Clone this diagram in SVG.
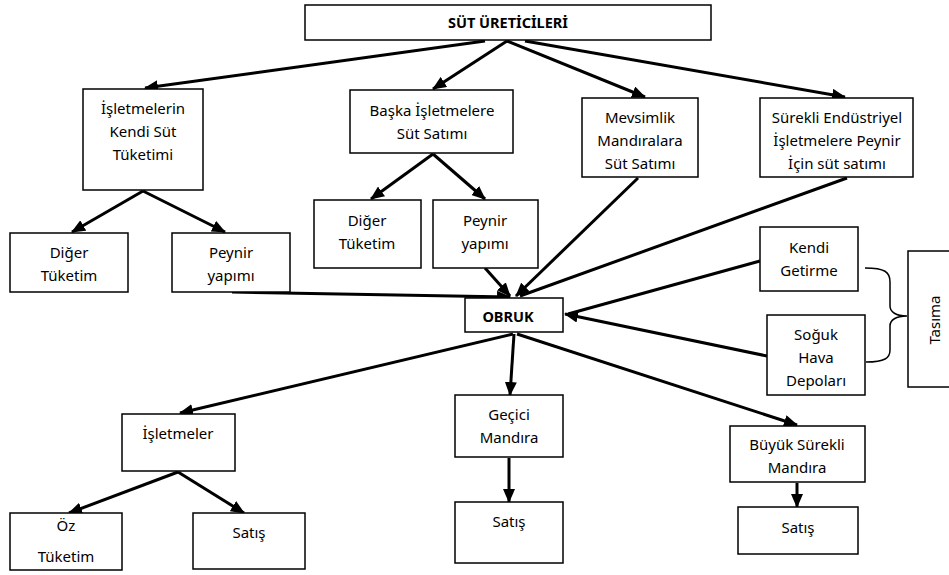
<svg xmlns="http://www.w3.org/2000/svg" width="949" height="575" viewBox="0 0 949 575">
<defs>
<marker id="ah" markerWidth="14" markerHeight="12" refX="13" refY="6" orient="auto" markerUnits="userSpaceOnUse">
<path d="M0,0 L14,6 L0,12 z" fill="#000"/>
</marker>
<style>
.box{fill:#fff;stroke:#000;stroke-width:1.5}
.t{font-family:"Noto Sans","Open Sans",sans-serif;font-size:15px;fill:#000;text-anchor:middle}
.b{font-weight:bold;font-size:14.5px}
.c{fill:none;stroke:#000;stroke-width:3}
.a{marker-end:url(#ah)}
.br{fill:none;stroke:#000;stroke-width:1.5}
</style>
</defs>
<rect width="949" height="575" fill="#fff"/>
<g id="connectors">
<line class="c a" x1="485" y1="41" x2="145" y2="88"/>
<line class="c a" x1="507" y1="41" x2="433" y2="89"/>
<line class="c a" x1="507" y1="41" x2="645" y2="97"/>
<line class="c a" x1="525" y1="41" x2="845" y2="97"/>
<line class="c a" x1="143" y1="191" x2="72" y2="232"/>
<line class="c a" x1="143" y1="191" x2="225" y2="232"/>
<line class="c a" x1="433" y1="154" x2="371" y2="199"/>
<line class="c a" x1="433" y1="154" x2="485" y2="199"/>
<line class="c a" x1="232" y1="292" x2="510" y2="297"/>
<line class="c a" x1="485" y1="268" x2="510" y2="296"/>
<line class="c a" x1="638" y1="178" x2="516" y2="296"/>
<line class="c" x1="847" y1="178" x2="520" y2="296"/>
<line class="c" x1="760" y1="261" x2="568" y2="314"/>
<line class="c a" x1="767" y1="356" x2="565" y2="314"/>
<line class="c a" x1="513" y1="334" x2="180" y2="413"/>
<line class="c a" x1="514" y1="334" x2="510" y2="395"/>
<line class="c a" x1="517" y1="334" x2="797" y2="425"/>
<line class="c a" x1="178" y1="472" x2="69" y2="513"/>
<line class="c a" x1="178" y1="472" x2="244" y2="513"/>
<line class="c a" x1="509" y1="458" x2="509" y2="502"/>
<line class="c a" x1="797" y1="483" x2="797" y2="507"/>
<path class="br" d="M865,268 C885,268 890,272 890,282 L890,306 C890,312 896,316 907,316 C896,316 890,320 890,326 L890,350 C890,358 885,362 866,362"/>
</g>
<g id="n_sut"><rect class="box" x="305" y="5" width="406" height="35"/><text class="t b" x="508" y="28">SÜT ÜRETİCİLERİ</text></g>
<g id="n_kendi"><rect class="box" x="83" y="89" width="120" height="101"/><text class="t" x="143" y="114">İşletmelerin</text><text class="t" x="143" y="137">Kendi Süt</text><text class="t" x="143" y="160">Tüketimi</text></g>
<g id="n_baska"><rect class="box" x="350" y="90" width="163" height="63"/><text class="t" x="432" y="116">Başka İşletmelere</text><text class="t" x="432" y="139">Süt Satımı</text></g>
<g id="n_mevsim"><rect class="box" x="582" y="98" width="116" height="79"/><text class="t" x="640" y="123">Mevsimlik</text><text class="t" x="640" y="146">Mandıralara</text><text class="t" x="640" y="169">Süt Satımı</text></g>
<g id="n_surekli"><rect class="box" x="760" y="98" width="153" height="79"/><text class="t" x="837" y="123">Sürekli Endüstriyel</text><text class="t" x="837" y="146">İşletmelere Peynir</text><text class="t" x="837" y="169">İçin süt satımı</text></g>
<g id="n_diger1"><rect class="box" x="10" y="233" width="118" height="59"/><text class="t" x="69" y="258">Diğer</text><text class="t" x="69" y="281">Tüketim</text></g>
<g id="n_peynir1"><rect class="box" x="172" y="233" width="118" height="59"/><text class="t" x="231" y="258">Peynir</text><text class="t" x="231" y="281">yapımı</text></g>
<g id="n_diger2"><rect class="box" x="314" y="200" width="107" height="68"/><text class="t" x="367" y="226">Diğer</text><text class="t" x="367" y="249">Tüketim</text></g>
<g id="n_peynir2"><rect class="box" x="433" y="200" width="105" height="68"/><text class="t" x="485" y="226">Peynir</text><text class="t" x="485" y="249">yapımı</text></g>
<g id="n_kendigetirme"><rect class="box" x="760" y="227" width="98" height="64"/><text class="t" x="809" y="253">Kendi</text><text class="t" x="809" y="276">Getirme</text></g>
<g id="n_soguk"><rect class="box" x="767" y="315" width="98" height="80"/><text class="t" x="816" y="340">Soğuk</text><text class="t" x="816" y="363">Hava</text><text class="t" x="816" y="386">Depoları</text></g>
<g id="n_tasima"><rect class="box" x="908" y="251" width="50" height="136"/><text class="t" x="0" y="0" transform="translate(940,320) rotate(-90)">Tasıma</text></g>
<g id="n_obruk"><rect class="box" x="465" y="298" width="98" height="34"/><text class="t b" x="508" y="322">OBRUK</text></g>
<g id="n_isletmeler"><rect class="box" x="122" y="414" width="113" height="57"/><text class="t" x="178" y="439">İşletmeler</text></g>
<g id="n_gecici"><rect class="box" x="455" y="395" width="108" height="62"/><text class="t" x="509" y="420">Geçici</text><text class="t" x="509" y="443">Mandıra</text></g>
<g id="n_buyuk"><rect class="box" x="730" y="426" width="135" height="56"/><text class="t" x="797" y="450">Büyük Sürekli</text><text class="t" x="797" y="473">Mandıra</text></g>
<g id="n_oz"><rect class="box" x="10" y="513" width="112" height="57"/><text class="t" x="66" y="531">Öz</text><text class="t" x="66" y="562">Tüketim</text></g>
<g id="n_satis1"><rect class="box" x="193" y="513" width="112" height="56"/><text class="t" x="249" y="538">Satış</text></g>
<g id="n_satis2"><rect class="box" x="455" y="502" width="108" height="61"/><text class="t" x="509" y="527">Satış</text></g>
<g id="n_satis3"><rect class="box" x="738" y="507" width="120" height="47"/><text class="t" x="798" y="533">Satış</text></g>
</svg>
